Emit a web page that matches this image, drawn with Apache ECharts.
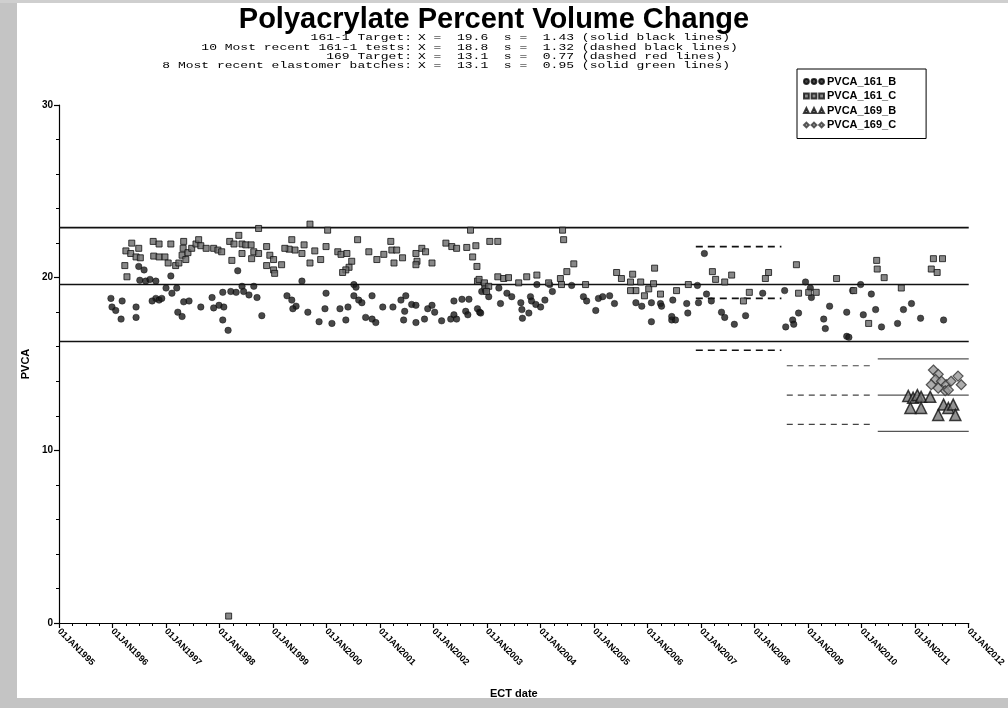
<!DOCTYPE html>
<html><head><meta charset="utf-8">
<script src="https://cdn.jsdelivr.net/npm/echarts@6/dist/echarts.min.js"></script>
<style>html,body{margin:0;padding:0;background:#fff}#c{width:1008px;height:708px}</style>
</head><body><div id="c"></div><script>
// ---- data (x = decimal year of ECT date, y = PVCA) ----
const tickYears = [1995,1996,1997,1998,1999,2000,2001,2002,2003,2004,2005,2006,2007,2008,2009,2010,2011,2012];
const titleText = 'Polyacrylate Percent Volume Change';
const subPrefix = ['161-1 Target:', '10 Most recent 161-1 tests:', '169 Target:', '8 Most recent elastomer batches:'];
const subSuffix = ['X =  19.6  s =  1.43 (solid black lines)', 'X =  18.8  s =  1.32 (dashed black lines)', 'X =  13.1  s =  0.77 (dashed red lines)', 'X =  13.1  s =  0.95 (solid green lines)'];
const seriesNames = ['PVCA_161_B','PVCA_161_C','PVCA_169_B','PVCA_169_C'];

const pvca161B = [
[1995.97,18.8],[1996.18,18.65],[1995.99,18.3],[1996.06,18.1],[1996.16,17.6],[1996.44,18.3],[1996.44,17.7],
[1996.49,20.65],[1996.59,20.45],[1996.51,19.85],[1996.62,19.8],[1996.70,19.9],[1996.81,19.8],[1997.09,20.1],
[1996.81,18.8],[1996.87,18.7],[1996.92,18.8],[1996.74,18.65],[1997.00,19.4],[1997.11,19.1],[1997.20,19.4],
[1997.33,18.6],[1997.43,18.65],[1997.22,18.0],[1997.30,17.75],[1997.65,18.3],[1997.86,18.85],[1997.89,18.25],
[1997.99,18.4],[1998.08,18.3],[1998.06,17.55],[1998.16,16.95],[1998.06,19.15],[1998.21,19.2],[1998.31,19.15],
[1998.34,20.4],[1998.42,19.5],[1998.45,19.2],[1998.55,19.0],[1998.64,19.5],[1998.70,18.85],[1998.79,17.8],
[1999.26,18.95],[1999.35,18.7],[1999.43,18.35],[1999.37,18.2],[1999.54,19.8],[1999.65,18.0],[1999.86,17.45],
[1999.99,19.1],[1999.97,18.2],[2000.10,17.35],[2000.25,18.2],[2000.36,17.55],[2000.40,18.3],[2000.51,19.6],
[2000.55,19.45],[2000.51,18.95],[2000.60,18.7],[2000.66,18.55],[2000.73,17.7],[2000.85,17.6],[2000.92,17.4],
[2000.85,18.95],[2001.05,18.3],[2001.24,18.3],[2001.39,18.7],[2001.48,18.95],[2001.46,18.05],[2001.44,17.55],
[2001.59,18.45],[2001.67,18.4],[2001.67,17.4],[2001.83,17.6],[2001.89,18.2],[2001.97,18.4],[2002.02,18.0],
[2002.15,17.5],[2002.32,17.6],[2002.38,17.85],[2002.43,17.6],[2002.38,18.65],[2002.53,18.75],[2002.66,18.75],
[2002.60,18.05],[2002.64,17.85],[2002.82,18.2],[2002.86,18.0],[2002.96,19.4],[2002.90,19.2],
[2002.97,19.25],[2003.03,18.9],[2002.88,17.95],[2003.22,19.4],[2003.25,18.5],[2003.37,19.1],[2003.46,18.9],
[2003.63,18.55],[2003.65,18.15],[2003.66,17.65],[2003.81,18.9],[2003.83,18.65],[2003.91,18.45],[2004.00,18.3],
[2003.78,17.95],[2003.93,19.6],[2004.08,18.7],[2004.17,19.6],[2004.22,19.2],[2004.58,19.55],[2004.80,18.9],
[2004.86,18.65],[2005.03,18.1],[2005.08,18.8],[2005.16,18.9],[2005.29,18.95],[2005.38,18.5],[2005.78,18.55],
[2005.89,18.35],[2006.07,18.55],[2006.24,18.5],[2006.26,18.35],[2006.07,17.45],[2006.47,18.7],[2006.45,17.55],
[2006.52,17.55],[2006.45,17.75],[2006.75,17.95],
[2006.73,18.5],[2006.93,19.55],[2007.06,21.4],[2007.10,19.05],[2006.95,18.55],[2007.19,18.65],[2007.38,18.0],
[2007.44,17.7],[2007.62,17.3],[2007.83,17.8],[2008.15,19.1],[2008.56,19.25],[2008.58,17.15],[2008.71,17.55],
[2008.73,17.3],[2008.82,17.95],[2008.95,19.75],[2009.04,19.4],[2009.06,18.85],[2009.29,17.6],[2009.32,17.05],
[2009.40,18.35],[2009.72,18.0],[2009.72,16.6],[2009.76,16.55],[2009.83,19.25],[2009.98,19.6],[2010.03,17.85],
[2010.18,19.05],[2010.26,18.15],[2010.37,17.15],[2010.67,17.35],[2010.78,18.15],[2010.93,18.5],[2011.10,17.65],
[2011.53,17.55]
];

const pvca161C = [
[1996.36,22.0],[1996.25,21.55],[1996.34,21.4],[1996.49,21.7],[1996.44,21.2],[1996.52,21.15],[1996.23,20.7],
[1996.27,20.05],[1996.76,22.1],[1996.87,21.95],[1996.77,21.25],[1996.87,21.2],[1996.98,21.2],[1997.09,21.95],
[1997.04,20.85],[1997.18,20.7],[1997.24,20.85],[1997.33,22.1],[1997.32,21.7],[1997.30,21.3],[1997.37,21.05],
[1997.41,21.45],[1997.48,21.7],[1997.56,21.95],[1997.61,22.2],[1997.65,21.85],[1997.75,21.7],[1997.89,21.7],
[1997.97,21.6],[1998.04,21.5],[1998.19,22.1],[1998.27,21.95],[1998.36,22.45],[1998.42,21.95],[1998.49,21.9],
[1998.59,21.9],[1998.42,21.4],[1998.64,21.5],[1998.60,21.1],[1998.23,21.0],[1998.73,22.85],[1998.73,21.4],
[1998.88,21.8],[1998.94,21.3],[1998.88,20.7],[1999.01,20.45],[1998.17,0.4],
[1999.69,23.1],[2000.02,22.75],[1999.35,22.2],[1999.41,21.6],[1999.30,21.65],[1999.22,21.7],[1999.58,21.9],
[1999.54,21.4],[1999.16,20.75],[1999.01,21.05],[1999.03,20.25],[1999.78,21.55],[1999.89,21.05],[1999.99,21.8],
[1999.69,20.85],[2000.21,21.5],[2000.27,21.35],[2000.38,21.4],[2000.47,20.95],[2000.42,20.6],[2000.36,20.45],
[2000.30,20.3],[2000.58,22.2],[2000.79,21.5],[2000.94,21.05],[2001.07,21.35],[2001.20,22.1],[2001.22,21.6],
[2001.31,21.6],[2001.26,20.85],[2001.42,21.15],[2001.67,21.4],[2001.78,21.7],[2001.85,21.5],[2001.69,20.95],
[2001.67,20.75],[2001.97,20.85],[2002.23,22.0],[2002.34,21.8],[2002.43,21.7],[2002.62,21.75],[2002.69,22.75],
[2002.79,21.85],[2002.73,21.2],[2002.81,20.65],[2002.82,19.8],[2002.96,19.5],
[2003.05,22.1],[2003.20,22.1],[2002.85,19.9],[2002.95,19.7],[2003.03,19.5],[2002.99,19.2],
[2004.41,22.75],[2004.43,22.2],[2004.62,20.8],[2004.49,20.35],[2004.37,19.95],[2004.39,19.6],[2003.20,20.05],
[2003.31,19.95],[2003.40,20.0],[2003.59,19.7],[2003.74,20.05],[2003.93,20.15],[2004.15,19.7],[2004.84,19.6],
[2005.42,20.3],[2005.51,19.95],[2005.72,20.2],[2005.68,19.75],[2005.87,19.75],[2005.78,19.25],[2005.68,19.25],
[2005.94,18.95],[2006.02,19.35],[2006.13,20.55],[2006.11,19.65],[2006.24,19.05],[2006.54,19.25],[2006.76,19.6],
[2007.21,20.35],[2007.27,19.9],[2007.57,20.15],[2007.44,19.75],[2007.90,19.15],[2007.79,18.65],[2008.20,19.95],
[2008.26,20.3],[2008.78,20.75],[2008.82,19.1],[2009.01,19.15],[2009.15,19.15],[2009.53,19.95],[2009.85,19.25],
[2010.13,17.35],[2010.28,21.0],[2010.29,20.5],[2010.42,20.0],[2010.74,19.4],[2011.34,21.1],[2011.51,21.1],
[2011.30,20.5],[2011.41,20.3]
];

const pvca169B = [
[2010.87,13.15],[2010.96,13.05],[2011.04,13.2],[2011.11,13.1],[2011.28,13.1],[2010.91,12.45],[2011.11,12.45],
[2011.43,12.05],[2011.53,12.65],[2011.62,12.45],[2011.71,12.65],[2011.75,12.05]
];
const pvca169C = [
[2011.34,14.65],[2011.43,14.4],[2011.38,14.1],[2011.30,13.8],[2011.49,14.0],[2011.58,13.8],[2011.67,14.0],
[2011.80,14.3],[2011.86,13.8],[2011.56,13.45],[2011.62,13.5],[2011.43,13.6]
];

// reference lines: [from, to, [upper, mean, lower]]
const solidBlack = [1995, 2012, [22.9, 19.6, 16.3]];
const dashedBlack = [2006.9, 2008.5, [21.8, 18.8, 15.8]];
const dashedRed = [2008.6, 2010.2, [14.9, 13.2, 11.5]];
const solidGreen = [2010.3, 2012, [15.3, 13.2, 11.1]];

// ---- chart ----
const chart = echarts.init(document.getElementById('c'));
function refSeries(def, style) {
  return def[2].map(v => ({
    type: 'line', silent: true, symbol: 'none', z: 1, animation: false,
    data: [[def[0], v], [def[1], v]], lineStyle: style
  }));
}
const iconCircles = 'path://M0.5,4 a3.5,3.5 0 1,0 7,0 a3.5,3.5 0 1,0 -7,0 Z M11.5,4 a3.5,3.5 0 1,0 7,0 a3.5,3.5 0 1,0 -7,0 Z M22.5,4 a3.5,3.5 0 1,0 7,0 a3.5,3.5 0 1,0 -7,0 Z';
const iconSquares = 'path://M0.5,0.5 h7 v7 h-7 Z M11.5,0.5 h7 v7 h-7 Z M22.5,0.5 h7 v7 h-7 Z';
const iconTri = 'path://M4,0.5 L7.5,7.5 L0.5,7.5 Z M15,0.5 L18.5,7.5 L11.5,7.5 Z M26,0.5 L29.5,7.5 L22.5,7.5 Z';
const iconDia = 'path://M4,0.5 L7.5,4 L4,7.5 L0.5,4 Z M15,0.5 L18.5,4 L15,7.5 L11.5,4 Z M26,0.5 L29.5,4 L26,7.5 L22.5,4 Z';

const graphics = [
  {type:'rect', shape:{x:0,y:0,width:17,height:708}, style:{fill:'#c4c4c4'}, silent:true},
  {type:'rect', shape:{x:0,y:0,width:1008,height:3}, style:{fill:'#cfcfcf'}, silent:true},
  {type:'rect', shape:{x:0,y:698,width:1008,height:10}, style:{fill:'#c4c4c4'}, silent:true},
];
const subX = 418, subY0 = 38, subDy = 9.2;
subPrefix.forEach((p, i) => {
  graphics.push({type:'text', x: subX - 6, y: subY0 + i*subDy, scaleY: 0.72, silent:true,
    style:{text:p, font:'13px "Liberation Mono", monospace', fill:'#000', textAlign:'right', textVerticalAlign:'middle'}});
  graphics.push({type:'text', x: subX, y: subY0 + i*subDy, scaleY: 0.72, silent:true,
    style:{text:subSuffix[i], font:'13px "Liberation Mono", monospace', fill:'#000', textAlign:'left', textVerticalAlign:'middle'}});
});

const option = {
  animation: false,
  backgroundColor: '#fff',
  title: {
    text: titleText, left: 489, top: 0, textAlign: 'center',
    textStyle: {fontFamily: 'Liberation Sans', fontSize: 29, fontWeight: 'bold', color: '#000', lineHeight: 30}
  },
  legend: {
    orient: 'vertical', left: 797, top: 69, width: 126,
    padding: [7, 30, 8, 6], itemGap: 3.5, itemWidth: 20, itemHeight: 6,
    borderColor: '#000', borderWidth: 1,
    textStyle: {fontFamily: 'Liberation Sans', fontSize: 11, fontWeight: 'bold', color: '#000', padding:[0,0,0,-2]},
    data: [
      {name: seriesNames[0], icon: iconCircles},
      {name: seriesNames[1], icon: iconSquares},
      {name: seriesNames[2], icon: iconTri},
      {name: seriesNames[3], icon: iconDia}
    ]
  },
  grid: {left: 59, right: 36, top: 105, bottom: 85},
  xAxis: {
    type: 'value', min: tickYears[0], max: tickYears[tickYears.length-1], interval: 1,
    name: 'ECT date', nameLocation: 'middle', nameGap: 65,
    nameTextStyle: {fontFamily: 'Liberation Sans', fontSize: 11, fontWeight: 'bold', color: '#000'},
    axisLine: {lineStyle: {color: '#000', width: 1.2}},
    axisTick: {length: 5, lineStyle: {color: '#000', width: 1.2}},
    minorTick: {show: true, splitNumber: 4, length: 3, lineStyle: {color: '#000'}},
    splitLine: {show: false},
    axisLabel: {
      rotate: -45, margin: 7, fontFamily: 'Liberation Sans', fontSize: 9, fontWeight: 'bold', color: '#000',
      formatter: v => '01JAN' + v
    }
  },
  yAxis: {
    type: 'value', min: 0, max: 30, interval: 10,
    name: 'PVCA', nameLocation: 'middle', nameGap: 18, nameRotate: 90,
    nameTextStyle: {fontFamily: 'Liberation Sans', fontSize: 11, fontWeight: 'bold', color: '#000'},
    axisLine: {show: true, lineStyle: {color: '#000', width: 1.2}},
    axisTick: {show: true, length: 5, lineStyle: {color: '#000', width: 1.2}},
    minorTick: {show: true, splitNumber: 5, length: 3, lineStyle: {color: '#000'}},
    splitLine: {show: false},
    axisLabel: {fontFamily: 'Liberation Sans', fontSize: 10, fontWeight: 'bold', color: '#000', margin: 6}
  },
  graphic: graphics,
  series: [
    ...refSeries(solidBlack, {color: '#111', width: 1.6, type: 'solid'}),
    ...refSeries(dashedBlack, {color: '#111', width: 1.6, type: [7, 5]}),
    ...refSeries(dashedRed, {color: '#444', width: 1.2, type: [6, 5]}),
    ...refSeries(solidGreen, {color: '#555', width: 1.2, type: 'solid'}),
    {name: seriesNames[0], type: 'scatter', data: pvca161B, symbol: 'circle', symbolSize: 6.5, z: 3,
      itemStyle: {color: '#1a1a1a', borderColor: '#000', borderWidth: 0.5}},
    {name: seriesNames[1], type: 'scatter', data: pvca161C, symbol: 'rect', symbolSize: 6, z: 3,
      itemStyle: {color: '#6a6a6a', borderColor: '#111', borderWidth: 1}},
    {name: seriesNames[2], type: 'scatter', data: pvca169B, symbol: 'triangle', symbolSize: 11, z: 4,
      itemStyle: {color: '#777', borderColor: '#111', borderWidth: 1.5}},
    {name: seriesNames[3], type: 'scatter', data: pvca169C, symbol: 'diamond', symbolSize: 10, z: 4,
      itemStyle: {color: '#999', borderColor: '#333', borderWidth: 1.2}}
  ]
};
chart.setOption(option);
</script></body></html>
